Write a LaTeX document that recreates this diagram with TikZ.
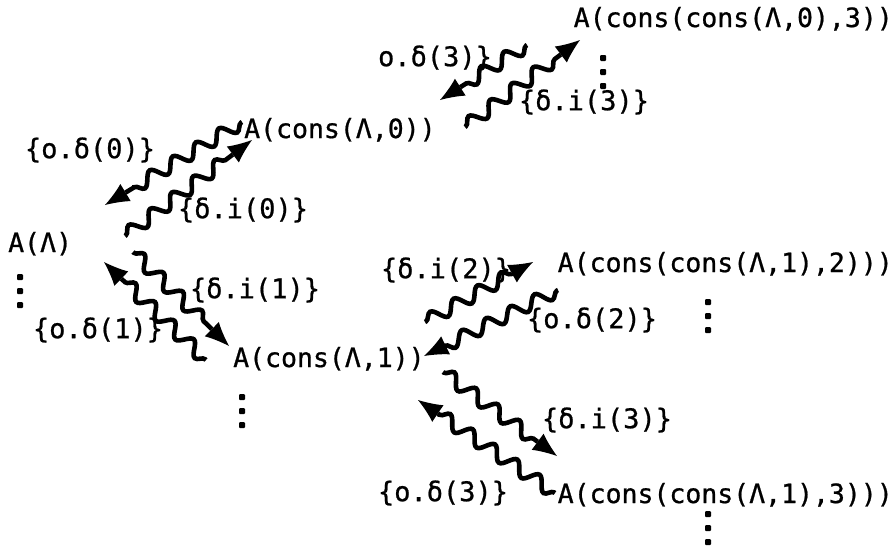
\documentclass[tikz,border=0pt]{standalone}
\usepackage{fontspec}
\setmainfont{DejaVu Sans Mono}[FakeBold=0.8]
\usetikzlibrary{decorations.pathmorphing,arrows.meta}
\tikzset{
  state/.style={font=\fontsize{26.5}{30}\selectfont, inner sep=0pt, anchor=base west},
  lab/.style={font=\fontsize{27}{30}\selectfont, inner sep=0pt},
  wave/.style={line width=4.6pt, decorate,
    decoration={snake, amplitude=6.5pt, segment length=27pt, pre length=1pt, post length=22pt},
    -{Latex[length=24pt,width=20pt,line width=0pt]}},
  vdot/.style={fill, minimum size=6pt, inner sep=0pt, rectangle, rounded corners=1pt}
}
\begin{document}
\begin{tikzpicture}[x=1pt,y=-1pt]
\useasboundingbox (0,0) rectangle (895,547);
% states
\node[state] (a0) at (8,252) {A(Λ)};
\node[state] (a1) at (244,138) {A(cons(Λ,0))};
\node[state,anchor=base east] (a3) at (893,27) {A(cons(cons(Λ,0),3))};
\node[state] (b1) at (233,367) {A(cons(Λ,1))};
\node[state,anchor=base east] (b2) at (893,272) {A(cons(cons(Λ,1),2)))};
\node[state,anchor=base east] (b3) at (893,503) {A(cons(cons(Λ,1),3)))};
% continuation dots
\foreach \x/\y in {20/277, 242/397, 603/58, 708/302, 708/514}{
  \foreach \k in {0,14,28}{ \node[vdot] at (\x,\y+\k) {}; }
}
% endpoints
\coordinate (p1s) at (242,122); \coordinate (p1e) at (105,205);
\coordinate (q1s) at (125,236); \coordinate (q1e) at (252,140);
\coordinate (p2s) at (133,252); \coordinate (p2e) at (229,346);
\coordinate (q2s) at (206,360); \coordinate (q2e) at (104,262);
\coordinate (p3s) at (527,45);  \coordinate (p3e) at (440,100);
\coordinate (q3s) at (465,127); \coordinate (q3e) at (580,40);
\coordinate (p4s) at (425,322); \coordinate (p4e) at (533,262);
\coordinate (q4s) at (558,290); \coordinate (q4e) at (424,356);
\coordinate (p5s) at (443,372); \coordinate (p5e) at (557,456);
\coordinate (q5s) at (555,493); \coordinate (q5e) at (418,400);
% arrows
\draw[wave] (p1s) -- (p1e);
\draw[wave] (q1s) -- (q1e);
\draw[wave] (p2s) -- (p2e);
\draw[wave] (q2s) -- (q2e);
\draw[wave] (p3s) -- (p3e);
\draw[wave] (q3s) -- (q3e);
\draw[wave] (p4s) -- (p4e);
\draw[wave] (q4s) -- (q4e);
\draw[wave] (p5s) -- (p5e);
\draw[wave] (q5s) -- (q5e);
% labels
\node[lab] (l1) at (90,150) {\{o.δ(0)\}};
\node[lab] (l2) at (243,210) {\{δ.i(0)\}};
\node[lab] (l3) at (255,290) {\{δ.i(1)\}};
\node[lab] (l4) at (98,330) {\{o.δ(1)\}};
\node[lab] (l5) at (435,58) {o.δ(3)\}};
\node[lab] (l6) at (584,102) {\{δ.i(3)\}};
\node[lab] (l7) at (446,270) {\{δ.i(2)\}};
\node[lab] (l8) at (592,320) {\{o.δ(2)\}};
\node[lab] (l9) at (607,420) {\{δ.i(3)\}};
\node[lab] (l10) at (443,493) {\{o.δ(3)\}};
\end{tikzpicture}
\end{document}
